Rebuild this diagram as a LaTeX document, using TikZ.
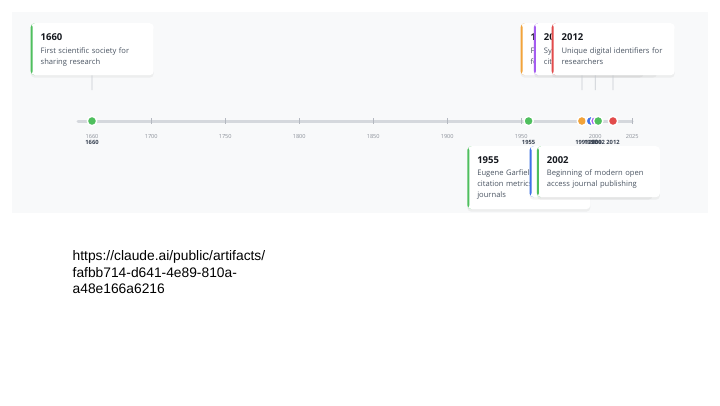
\documentclass[tikz,border=0pt]{standalone}
\usepackage{xcolor}
\usepackage{fontspec}
\setmainfont{Liberation Sans}
\newfontfamily\uifont{Open Sans}
\usetikzlibrary{positioning, shadows}

\definecolor{panelbg}{HTML}{F8F9FA}
\definecolor{axisgray}{HTML}{D5D8DD}
\definecolor{tickgray}{HTML}{B4B8C0}
\definecolor{ticktext}{HTML}{8B9099}
\definecolor{labeldark}{HTML}{374151}
\definecolor{titleink}{HTML}{15181E}
\definecolor{textink}{HTML}{4B5563}
\definecolor{linkgray}{HTML}{C6CAD0}
\definecolor{evgreen}{HTML}{4FBF5E}
\definecolor{evorange}{HTML}{F2A33A}
\definecolor{evblue}{HTML}{3E72E8}
\definecolor{evpurple}{HTML}{A45CF0}
\definecolor{evred}{HTML}{E24B4B}

\tikzset{
	card/.style={fill=white, rounded corners=4pt, inner sep=0pt, minimum width=123pt, anchor=north west,
		drop shadow={opacity=0.09, shadow xshift=0pt, shadow yshift=-2.5pt},
		path picture={\fill[#1] (path picture bounding box.north west) rectangle ([xshift=2pt]path picture bounding box.south west);}}, % white card with coloured left edge
	ctitle/.style={anchor=base west, inner sep=0pt, text=titleink, font=\uifont\bfseries\fontsize{9.5}{11}\selectfont},
	cdesc/.style={anchor=base west, inner sep=0pt, text width=108pt, align=left, text=textink, font=\uifont\fontsize{7.6}{11}\selectfont},
	dot/.style={circle, fill=#1, draw=white, line width=1.4pt, minimum size=9.3pt, inner sep=0pt},
	link/.style={draw=linkgray, line width=0.8pt},
	axis/.style={draw=axisgray, line width=3pt, line cap=round},
	tickline/.style={draw=tickgray, line width=0.6pt},
	ticklabel/.style={inner sep=0pt, text=ticktext, font=\uifont\fontsize{5.6}{6}\selectfont},
	yearlabel/.style={inner sep=0pt, text=labeldark, font=\uifont\bfseries\fontsize{5.8}{6}\selectfont},
}

\begin{document}
\begin{tikzpicture}[x=1pt, y=-1pt]
	\useasboundingbox (0,0) rectangle (720,405);
	% Panel
	\fill[panelbg] (12,12) rectangle (708,213);
	
	% Axis with ticks
	\coordinate (axL) at (78,121);
	\coordinate (axR) at (632.2,121);
	\draw[axis] (axL) -- (axR);
	\foreach \x/\lab in {92/1660, 151.2/1700, 225.2/1750, 299.2/1800, 373.2/1850, 447.2/1900, 521.2/1950, 595.2/2000, 632.2/2025} {
		\draw[tickline] (\x,118) -- (\x,124);
		\node[ticklabel] (k\lab) at (\x,136) {\lab};
	}
	
	% Markers on the axis
	\node[dot=evgreen] (d1660) at (92,121) {};
	\node[dot=evgreen] (d1955) at (528.6,121) {};
	\node[dot=evorange] (d1991) at (581.9,121) {};
	\node[dot=evblue] (d1997) at (590.8,121) {};
	\node[dot=evpurple] (d2000) at (595.2,121) {};
	\node[dot=evgreen] (d2002) at (598.2,121) {};
	\node[dot=evred] (d2012) at (613,121) {};
	
	% Year labels under the axis
	\node[yearlabel] (y1660) at (92,142) {1660};
	\node[yearlabel] (y1955) at (528.6,142) {1955};
	\node[yearlabel] (y1991) at (581.9,142) {1991};
	\node[yearlabel] (y1997) at (590.8,142) {1997};
	\node[yearlabel] (y2000) at (595.2,142) {2000};
	\node[yearlabel] (y2002) at (598.2,142) {2002};
	\node[yearlabel] (y2012) at (613,142) {2012};
	
	% Cards above the axis
	\node[card=evgreen, minimum height=52pt] (c1660) at (30.5,23) {};
	\node[ctitle] (t1660) at ([shift={(10,17.7)}]c1660.north west) {1660};
	\node[cdesc] (s1660) at ([shift={(10,30.3)}]c1660.north west) {First scientific society for\\sharing research};
	
	\node[card=evorange, minimum height=52pt] (c1991) at (520.4,23) {};
	\node[ctitle] (t1991) at ([shift={(10,17.7)}]c1991.north west) {1991};
	\node[cdesc] (s1991) at ([shift={(10,30.3)}]c1991.north west) {First preprint server\\for physics papers};
	
	\node[card=evpurple, minimum height=52pt] (c2000) at (533.7,23) {};
	\node[ctitle] (t2000) at ([shift={(10,17.7)}]c2000.north west) {2000};
	\node[cdesc] (s2000) at ([shift={(10,30.3)}]c2000.north west) {Systematic DOI\\citation linking};
	
	\node[card=evred, minimum height=52pt] (c2012) at (551.5,23) {};
	\node[ctitle] (t2012) at ([shift={(10,17.7)}]c2012.north west) {2012};
	\node[cdesc] (s2012) at ([shift={(10,30.3)}]c2012.north west) {Unique digital identifiers for\\researchers};
	
	% Cards below the axis
	\node[card=evgreen, minimum height=63pt] (c1955) at (467.1,146) {};
	\node[ctitle] (t1955) at ([shift={(10,17.7)}]c1955.north west) {1955};
	\node[cdesc] (s1955) at ([shift={(10,29.5)}]c1955.north west) {Eugene Garfield proposes\\citation metrics for\\journals};
	
	\node[card=evblue, minimum height=51pt] (c1997) at (529.3,146) {};
	
	\node[card=evgreen, minimum height=51pt] (c2002) at (536.7,146) {};
	\node[ctitle] (t2002) at ([shift={(10,17.7)}]c2002.north west) {2002};
	\node[cdesc] (s2002) at ([shift={(10,29.5)}]c2002.north west) {Beginning of modern open\\access journal publishing};
	
	% Links from the upper cards
	\coordinate (e1660) at (92,90);
	\coordinate (e1991) at (581.9,90);
	\coordinate (e2000) at (595.2,90);
	\coordinate (e2012) at (613,90);
	\draw[link] (c1660) -- (e1660);
	\draw[link] (c1991) -- (e1991);
	\draw[link] (c2000) -- (e2000);
	\draw[link] (c2012) -- (e2012);
	
	% Source address
	\node[anchor=base west, inner sep=0pt, text width=260pt, align=left, font=\fontsize{13.8}{16.4}\selectfont] (url) at (72.5,260.7) {https://claude.ai/public/artifacts/\\fafbb714-d641-4e89-810a-\\a48e166a6216};
\end{tikzpicture}
\end{document}
